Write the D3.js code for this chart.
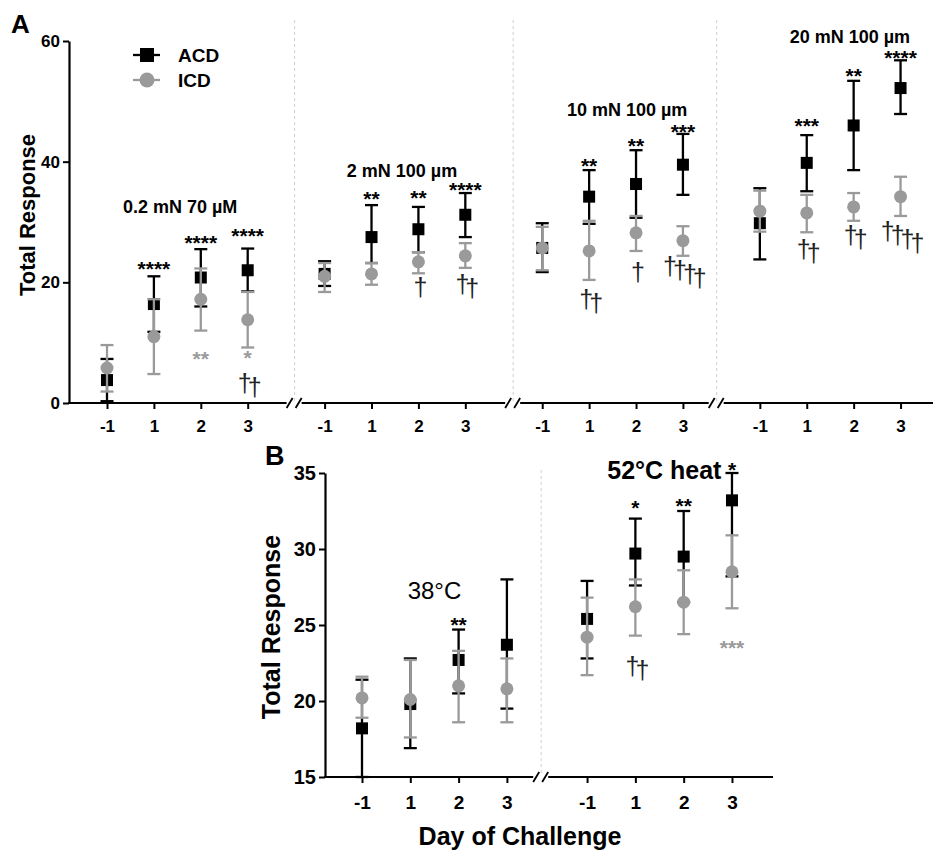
<!DOCTYPE html>
<html><head><meta charset="utf-8">
<script src="https://cdn.jsdelivr.net/npm/d3@7"></script>
<style>
body{margin:0;background:#fff}
svg{display:block}
text{font-family:"Liberation Sans",Arial,Helvetica,sans-serif}
</style>
</head><body>
<svg id="chart" width="933" height="852"></svg>
<script>
// ---------------- DATA ----------------
const days = ["-1", "1", "2", "3"];
const seriesNames = ["ACD", "ICD"];

// Panel A : mechanical stimuli
const sectionsA = ["0.2 mN 70 µM", "2 mN 100 µm", "10 mN 100 µm", "20 mN 100 µm"];
const yTicksA = [0, 20, 40, 60];
const acdMeanA = [[3.8, 16.4, 20.8, 22.0], [21.4, 27.5, 28.8, 31.2], [25.7, 34.2, 36.3, 39.5], [29.8, 39.8, 46.0, 52.2]];
const acdHiA   = [[7.3, 21.0, 25.5, 25.6], [23.5, 32.8, 32.5, 34.8], [29.8, 38.6, 41.9, 44.6], [35.6, 44.4, 53.4, 56.8]];
const acdLoA   = [[0.3, 11.8, 16.0, 18.5], [19.4, 23.2, 25.0, 27.5], [21.7, 29.7, 30.7, 34.5], [23.8, 35.1, 38.6, 47.9]];
const icdMeanA = [[5.8, 11.0, 17.2, 13.8], [21.0, 21.4, 23.4, 24.4], [25.7, 25.2, 28.2, 26.9], [31.8, 31.5, 32.5, 34.2]];
const icdHiA   = [[9.6, 17.2, 22.3, 18.4], [23.2, 23.2, 25.0, 26.5], [29.2, 30.2, 31.0, 29.3], [35.2, 34.5, 34.8, 37.5]];
const icdLoA   = [[1.9, 4.8, 12.0, 9.2], [18.4, 19.6, 21.5, 22.4], [22.0, 20.4, 25.2, 24.4], [28.4, 28.3, 30.2, 31.0]];
// significance marks: [section, day index, text, kind]  (a = ACD vs ICD, g = ICD vs baseline, d = daggers)
const marksA = [
  [0, 1, "****", "a"], [0, 2, "****", "a"], [0, 3, "****", "a"],
  [0, 2, "**", "g"], [0, 3, "*", "g"], [0, 3, "††", "d"],
  [1, 1, "**", "a"], [1, 2, "**", "a"], [1, 3, "****", "a"],
  [1, 2, "†", "d"], [1, 3, "††", "d"],
  [2, 1, "**", "a"], [2, 2, "**", "a"], [2, 3, "***", "a"],
  [2, 1, "††", "d"], [2, 2, "†", "d"], [2, 3, "††††", "d"],
  [3, 1, "***", "a"], [3, 2, "**", "a"], [3, 3, "****", "a"],
  [3, 1, "††", "d"], [3, 2, "††", "d"], [3, 3, "††††", "d"]
];

// Panel B : heat stimuli
const sectionsB = ["38°C", "52°C heat"];
const yTicksB = [15, 20, 25, 30, 35];
const acdMeanB = [[18.2, 19.8, 22.7, 23.7], [25.4, 29.7, 29.5, 33.2]];
const acdHiB   = [[21.4, 22.8, 24.7, 28.0], [27.9, 32.0, 32.5, 35.0]];
const acdLoB   = [[15.0, 16.9, 20.5, 19.5], [22.8, 27.6, 26.5, 28.2]];
const icdMeanB = [[20.2, 20.1, 21.0, 20.8], [24.2, 26.2, 26.5, 28.5]];
const icdHiB   = [[21.6, 22.7, 23.3, 22.8], [26.8, 28.0, 28.6, 30.9]];
const icdLoB   = [[18.9, 17.6, 18.6, 18.6], [21.7, 24.3, 24.4, 26.1]];
const marksB = [
  [0, 2, "**", "a"],
  [1, 1, "*", "a"], [1, 2, "**", "a"], [1, 3, "*", "a"],
  [1, 3, "***", "g"], [1, 1, "††", "d"]
];

// ---------------- LAYOUT (positions, not data) ----------------
const markYA = [22.9, 27.2, 28.5, 8.1, 8.2, 2.7, 34.6, 34.7, 36.0, 18.9, 19.2,
                40.1, 43.3, 45.7, 16.6, 21.5, 21.5, 46.7, 55.0, 58.0, 25.0, 27.2, 27.2];
const markYB = [25.3, 33.0, 33.1, 35.5, 23.8, 22.1];
const labelPosA = [[1.56, 31.5], [1.65, 37.5], [1.81, 47.6], [1.92, 59.7]];
const labelPosB = [[1.5, 26.7], [1.6, 34.6]];

const BLACK = "#000", GREY = "#9a9a9a", DASH = "#cfcfcf";
const svg = d3.select("#chart");

function drawPanel(o) {
  const g = svg.append("g");
  const x = o.x, y = o.y;
  const pos = (s, i) => x(s * o.secOff + i);

  // dashed separators
  o.breaks.forEach(b => {
    g.append("line").attr("x1", x(b)).attr("x2", x(b))
      .attr("y1", o.sepTop).attr("y2", y.range()[0] - 2)
      .attr("stroke", DASH).attr("stroke-width", 1).attr("stroke-dasharray", "3,3");
  });

  // y axis
  const ya = g.append("g").attr("transform", `translate(${o.axisX},0)`)
    .call(d3.axisLeft(y).tickValues(o.yTicks).tickSize(6).tickSizeOuter(0).tickPadding(3));
  ya.select(".domain").attr("stroke", BLACK).attr("stroke-width", 2.2);
  ya.selectAll(".tick line").attr("stroke", BLACK).attr("stroke-width", 2);
  ya.selectAll(".tick text").attr("font-size", o.yTickFont).attr("font-weight", "bold")
    .attr("font-family", "Liberation Sans, Arial, sans-serif").attr("fill", BLACK);

  // x axis ticks
  const tickPos = [], tickLab = [];
  for (let s = 0; s < o.nSec; s++) days.forEach((d, i) => { tickPos.push(s * o.secOff + i); tickLab.push(d); });
  const y0 = y.range()[0];
  const xa = g.append("g").attr("transform", `translate(0,${y0})`)
    .call(d3.axisBottom(x).tickValues(tickPos).tickFormat((d, i) => tickLab[i]).tickSize(6).tickPadding(o.xTickPad));
  xa.select(".domain").remove();
  xa.selectAll(".tick line").attr("stroke", BLACK).attr("stroke-width", 2);
  xa.selectAll(".tick text").attr("font-size", o.xTickFont).attr("font-weight", "bold")
    .attr("font-family", "Liberation Sans, Arial, sans-serif").attr("fill", BLACK);

  // x axis line with breaks
  const px = [o.axisX];
  o.breaks.forEach(b => { px.push(x(b) - 8); px.push(x(b) + 7); });
  px.push(o.axisEnd);
  for (let k = 0; k < px.length; k += 2) {
    g.append("line").attr("x1", px[k] - (k === 0 ? 1 : 0)).attr("x2", px[k + 1]).attr("y1", y0).attr("y2", y0)
      .attr("stroke", BLACK).attr("stroke-width", 2.2);
  }
  o.breaks.forEach(b => {
    [-5, 4].forEach(dx => {
      const cx = x(b) + dx;
      g.append("line").attr("x1", cx - 3).attr("x2", cx + 3).attr("y1", y0 + 5).attr("y2", y0 - 5)
        .attr("stroke", BLACK).attr("stroke-width", 1.8);
    });
  });

  // series
  const series = [
    { mean: o.acd[0], lo: o.acd[1], hi: o.acd[2], color: BLACK, shape: "square" },
    { mean: o.icd[0], lo: o.icd[1], hi: o.icd[2], color: GREY, shape: "circle" }
  ];
  series.forEach(sr => {
    const pts = sr.mean.flatMap((row, s) => row.map((m, i) => ({ s, i, m, lo: sr.lo[s][i], hi: sr.hi[s][i] })));
    const sg = g.append("g");
    sg.selectAll("line.bar").data(pts).join("line").attr("class", "bar")
      .attr("x1", d => pos(d.s, d.i)).attr("x2", d => pos(d.s, d.i))
      .attr("y1", d => y(d.lo)).attr("y2", d => y(d.hi))
      .attr("stroke", sr.color).attr("stroke-width", 2.3);
    sg.selectAll("line.caphi").data(pts).join("line").attr("class", "caphi")
      .attr("x1", d => pos(d.s, d.i) - 6.5).attr("x2", d => pos(d.s, d.i) + 6.5)
      .attr("y1", d => y(d.hi)).attr("y2", d => y(d.hi))
      .attr("stroke", sr.color).attr("stroke-width", 2.3);
    sg.selectAll("line.caplo").data(pts).join("line").attr("class", "caplo")
      .attr("x1", d => pos(d.s, d.i) - 6.5).attr("x2", d => pos(d.s, d.i) + 6.5)
      .attr("y1", d => y(d.lo)).attr("y2", d => y(d.lo))
      .attr("stroke", sr.color).attr("stroke-width", 2.3);
    if (sr.shape === "square") {
      sg.selectAll("rect").data(pts).join("rect")
        .attr("x", d => pos(d.s, d.i) - 6).attr("y", d => y(d.m) - 6)
        .attr("width", 12).attr("height", 12).attr("fill", sr.color);
    } else {
      sg.selectAll("circle").data(pts).join("circle")
        .attr("cx", d => pos(d.s, d.i)).attr("cy", d => y(d.m)).attr("r", 6.5).attr("fill", sr.color);
    }
  });

  // significance marks
  o.marks.forEach((mk, k) => {
    const [s, i, txt, kind] = mk;
    const cx = pos(s, i), cy = y(o.markY[k]);
    if (kind === "d") {
      const n = txt.length;
      const t = g.append("text").attr("x", cx).attr("y", cy - (n - 1) * 2)
        .attr("text-anchor", "middle").attr("font-size", 25).attr("fill", "#222")
        .attr("font-family", "Liberation Serif, Times New Roman, serif")
        .attr("letter-spacing", "-4px");
      for (let j = 0; j < n; j++) {
        t.append("tspan").attr("dy", j === 0 ? "0.3em" : "4").text(txt[j]);
      }
    } else {
      g.append("text").attr("x", cx).attr("y", cy).attr("dy", "0.55em").attr("text-anchor", "middle")
        .attr("font-size", 21).attr("font-weight", "bold")
        .attr("fill", kind === "g" ? GREY : BLACK).text(txt);
    }
  });

  // section labels
  o.sections.forEach((lab, s) => {
    const [dx, vy] = o.labelPos[s];
    g.append("text").attr("x", x(s * o.secOff + dx)).attr("y", y(vy)).attr("text-anchor", "middle")
      .attr("font-size", o.labelFont[s]).attr("font-weight", o.labelWeight[s]).attr("fill", BLACK).text(lab);
  });

  // y title
  g.append("text").attr("transform", `translate(${o.yTitle[0]},${o.yTitle[1]}) rotate(-90)`)
    .attr("text-anchor", "middle").attr("font-size", o.yTitle[2]).attr("font-weight", "bold").text("Total Response");
  // panel letter
  g.append("text").attr("x", o.letter[0]).attr("y", o.letter[1]).attr("font-size", o.letter[2])
    .attr("font-weight", "bold").text(o.letter[3]);
  return g;
}

// Panel A
const yA = d3.scaleLinear().domain([0, 60]).range([403, 41]);
const xA = d3.scaleLinear().domain([0, 1]).range([107, 153.9]);
drawPanel({
  x: xA, y: yA, secOff: 4.64, nSec: 4, breaks: [4.0, 8.66, 13.0],
  axisX: 69, axisEnd: 933, sepTop: 20, yTicks: yTicksA,
  yTickFont: 17, xTickFont: 17, xTickPad: 11,
  acd: [acdMeanA, acdLoA, acdHiA], icd: [icdMeanA, icdLoA, icdHiA],
  marks: marksA, markY: markYA,
  sections: sectionsA, labelPos: labelPosA, labelFont: [18, 18, 18, 18], labelWeight: ["bold", "bold", "bold", "bold"],
  yTitle: [35, 215, 22], letter: [11, 33, 26, "A"]
});

// Panel B
const yB = d3.scaleLinear().domain([15, 35]).range([777, 473]);
const xB = d3.scaleLinear().domain([0, 1]).range([362, 410.3]);
drawPanel({
  x: xB, y: yB, secOff: 4.66, nSec: 2, breaks: [3.71],
  axisX: 325, axisEnd: 773, sepTop: 470, yTicks: yTicksB,
  yTickFont: 20, xTickFont: 19, xTickPad: 13,
  acd: [acdMeanB, acdLoB, acdHiB], icd: [icdMeanB, icdLoB, icdHiB],
  marks: marksB, markY: markYB,
  sections: sectionsB, labelPos: labelPosB, labelFont: [24, 25], labelWeight: ["normal", "bold"],
  yTitle: [280, 627, 25], letter: [265, 465, 27, "B"]
});

// x title
svg.append("text").attr("x", 520).attr("y", 845).attr("text-anchor", "middle")
  .attr("font-size", 25).attr("font-weight", "bold").text("Day of Challenge");

// legend (panel A)
const leg = svg.append("g");
const legItems = seriesNames.map((n, k) => ({ n, k }));
leg.selectAll("line").data(legItems).join("line")
  .attr("x1", 133).attr("x2", 160).attr("y1", d => 55 + d.k * 25).attr("y2", d => 55 + d.k * 25)
  .attr("stroke", d => d.k ? GREY : BLACK).attr("stroke-width", 2.3);
leg.append("rect").attr("x", 140).attr("y", 48).attr("width", 14).attr("height", 14).attr("fill", BLACK);
leg.append("circle").attr("cx", 147).attr("cy", 80).attr("r", 7.5).attr("fill", GREY);
leg.selectAll("text").data(legItems).join("text")
  .attr("x", 178).attr("y", d => 62 + d.k * 25).attr("font-size", 19).attr("font-weight", "bold").text(d => d.n);
</script>
</body></html>
